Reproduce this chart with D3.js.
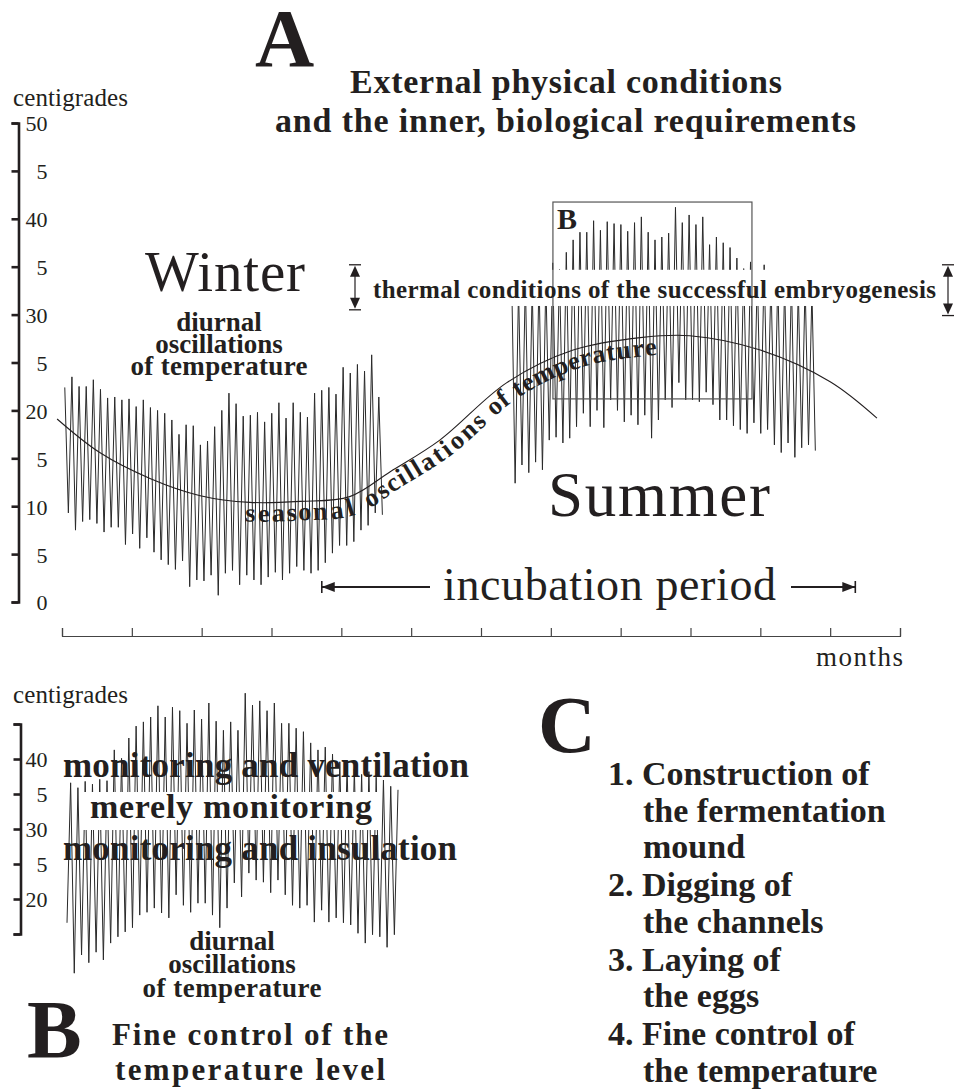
<!DOCTYPE html>
<html><head><meta charset="utf-8">
<script src="https://cdn.jsdelivr.net/npm/d3@7"></script>
<style>
body{margin:0;background:#fff}
svg{display:block}
text{font-family:"Liberation Serif","Times New Roman",serif;fill:#231f20}
</style>
</head><body>
<svg id="c" width="956" height="1092"></svg>
<script>
// ---------------- data ----------------
const monthTicks = [0,1,2,3,4,5,6,7,8,9,10,11,12];
const tempTicksA = [0,5,10,15,20,25,30,35,40,45,50];
const tempLabelsA = ["0","5","10","5","20","5","30","5","40","5","50"];
const tempTicksB = [15,20,25,30,35,40,45];
const tempLabelsB = ["","20","5","30","5","40",""];

// seasonal oscillation (month, °C)
const seasonMonths = [-0.07,0.54,1.26,1.98,2.69,3.41,4.12,4.70,5.41,6.37,7.32,8.28,8.99,10.0,11.0,11.67];
const seasonTemps  = [19.1,15.6,12.9,11.1,10.4,10.5,11.0,13.6,16.9,22.9,26.3,27.6,27.8,26.3,23.0,19.2];

// winter diurnal oscillations (daily max / min, °C)
const winterStart = 0.04, winterStep = 0.1022;
const winterPeaks = [22.4,23.5,22.5,22.5,23.2,22.2,21.3,21.4,21.1,21.2,20.4,21.1,20.3,20.0,19.7,19.0,17.5,18.5,18.4,16.4,16.8,18.3,20.0,21.8,20.7,19.4,19.5,19.8,18.8,19.7,20.8,19.2,20.8,19.8,19.3,21.8,22.1,22.4,21.7,24.5,23.9,24.8,24.1,25.8,21.4];
const winterTroughs = [9.3,7.5,8.4,8.6,8.2,7.3,7.8,7.8,6.0,7.1,5.6,6.7,5.2,4.4,3.9,3.4,4.3,1.6,2.3,2.2,2.8,0.7,3.0,3.3,1.8,2.8,2.3,1.8,2.6,3.1,2.3,3.0,3.7,3.3,3.0,3.3,4.1,5.1,5.9,5.9,6.3,7.5,8.0,9.3,9.1];

// summer diurnal oscillations
const summerStart = 6.44, summerStep = 0.0977;
const summerPeaks = [33.5,32.8,33.8,33.0,34.0,33.6,35.4,34.7,36.5,37.8,38.6,38.6,39.8,38.8,39.7,39.5,39.4,38.7,39.6,40.2,38.6,37.8,38.1,38.5,41.2,39.6,40.4,39.4,40.2,37.3,38.1,37.5,37.0,35.9,34.8,35.5,34.2,35.2,33.8,34.0,33.2,33.6,32.8,33.4,32.5];
const summerTroughs = [12.4,14.3,13.5,14.6,13.8,16.9,17.2,16.6,17.1,18.3,19.7,18.3,20.0,18.2,21.1,20.0,18.8,19.5,18.5,19.5,17.1,19.0,21.1,20.3,22.9,21.1,21.1,20.9,21.9,20.6,19.0,19.0,18.4,18.0,17.6,18.7,17.6,18.0,16.4,15.6,16.6,15.1,16.1,16.4,15.8];

// panel B: enlarged summer oscillations
const fineTroughs = [16.6,9.4,12.0,10.9,12.4,11.3,13.7,14.6,15.3,15.9,17.7,18.1,18.7,18.0,17.3,20.6,19.1,18.1,19.4,19.4,17.7,15.9,18.7,22.3,20.3,23.7,22.7,22.4,20.9,22.7,20.6,19.1,18.7,19.1,16.7,18.4,16.7,17.3,16.6,16.3,15.1,13.7,14.9,14.6,13.1,14.9];
const finePeaks = [36.6,35.9,36.8,36.4,37.1,36.9,41.3,40.1,43.0,44.7,45.3,46.0,47.6,46.0,47.4,46.9,45.1,47.0,45.7,48.0,45.4,44.1,45.3,44.1,49.4,47.7,48.3,46.9,48.0,45.1,45.1,44.4,43.9,42.3,41.3,41.7,40.7,39.6,39.0,38.6,37.8,38.2,37.4,37.0,36.1,35.6];

const boxMonths = [7.03, 9.88];
const boxTemps = [21.2, 41.75];
const embryoBand = [30.5, 35.2];
const embryoBandRight = [29.9, 35.2];
const incubation = [3.72, 11.36];

const cItems = [
  ["1. Construction of", "the fermentation", "mound"],
  ["2. Digging of", "the channels"],
  ["3. Laying of", "the eggs"],
  ["4. Fine control of", "the temperature"]
];

// ---------------- drawing ----------------
const svg = d3.select("#c");
const INK = "#231f20";

const xA = d3.scaleLinear().domain([0,12]).range([62,900]);
const yA = d3.scaleLinear().domain([0,50]).range([602,123]);

function txt(g, x, y, s, o) {
  const t = g.append("text").attr("x", x).attr("y", y).text(s)
    .attr("font-size", o.size).attr("font-weight", o.bold ? "bold" : "normal");
  if (o.anchor) t.attr("text-anchor", o.anchor);
  if (o.len) t.attr("textLength", o.len).attr("lengthAdjust", "spacing");
  return t;
}

const gA = svg.append("g");

// y axis A
const yAxisA = d3.axisLeft(yA).tickValues(tempTicksA)
  .tickFormat((d,i) => tempLabelsA[i]).tickSize(7).tickSizeOuter(7);
const ya = gA.append("g").attr("transform", "translate(18.5,0)").call(yAxisA);
ya.select(".domain").attr("stroke", INK).attr("stroke-width", 2.6);
ya.selectAll(".tick line").attr("stroke", INK).attr("stroke-width", 2.6);
ya.selectAll(".tick text").attr("x", 29).attr("dy", "0.36em")
  .attr("font-size", 22).attr("font-family", "Liberation Serif").attr("fill", INK);

// x axis A
const xAxisA = d3.axisTop(xA).tickValues(monthTicks).tickFormat("").tickSize(8).tickSizeOuter(8);
const xa = gA.append("g").attr("transform", "translate(0,636)").call(xAxisA);
xa.select(".domain").attr("stroke", "#444").attr("stroke-width", 1.2);
xa.selectAll(".tick line").attr("stroke", "#444").attr("stroke-width", 1.2);

// zigzag builder
function zig(peaks, troughs, start, step) {
  const pts = [];
  for (let i = 0; i < peaks.length; i++) {
    pts.push([start + i*step, peaks[i]]);
    pts.push([start + (i+0.5)*step, troughs[i]]);
  }
  return pts;
}
const lineA = d3.line().x(d => xA(d[0])).y(d => yA(d[1]));
gA.append("path").attr("d", lineA(zig(winterPeaks, winterTroughs, winterStart, winterStep)))
  .attr("fill","none").attr("stroke","#2a2a2a").attr("stroke-width",1);
gA.append("path").attr("d", lineA(zig(summerPeaks, summerTroughs, summerStart, summerStep)))
  .attr("fill","none").attr("stroke","#2a2a2a").attr("stroke-width",1);

// seasonal curve
const seasonData = seasonMonths.map((m,i) => [m, seasonTemps[i]]);
const seasonLine = d3.line().x(d => xA(d[0])).y(d => yA(d[1])).curve(d3.curveCatmullRom.alpha(0.5));
const sp = gA.append("path").attr("id","seasonPath").attr("d", seasonLine(seasonData))
  .attr("fill","none").attr("stroke",INK).attr("stroke-width",1.1);

// white band behind the embryogenesis label
const bandLayer = gA.append("g");

// B box
gA.append("rect")
  .attr("x", xA(boxMonths[0])).attr("y", yA(boxTemps[1]))
  .attr("width", xA(boxMonths[1]) - xA(boxMonths[0]))
  .attr("height", yA(boxTemps[0]) - yA(boxTemps[1]))
  .attr("fill","none").attr("stroke","#555").attr("stroke-width",1.2);
txt(gA, xA(boxMonths[0]) + 4, yA(boxTemps[1]) + 27, "B", {size: 30, bold: true});

// embryogenesis label & band
const emb = txt(gA, 373, 298, "thermal conditions of the successful embryogenesis", {size: 25, bold: true, len: 563});
const eb = emb.node().getBBox();
bandLayer.append("rect").attr("x", eb.x - 2).attr("y", yA(embryoBand[1]) + 5)
  .attr("width", eb.width + 4).attr("height", yA(30.9) - (yA(embryoBand[1]) + 5))
  .attr("fill", "#fff");

// double-headed vertical arrows
function vArrow(g, x, y1, y2) {
  g.append("line").attr("x1",x-6).attr("x2",x+6).attr("y1",y1).attr("y2",y1).attr("stroke",INK).attr("stroke-width",1.3);
  g.append("line").attr("x1",x-6).attr("x2",x+6).attr("y1",y2).attr("y2",y2).attr("stroke",INK).attr("stroke-width",1.3);
  g.append("line").attr("x1",x).attr("x2",x).attr("y1",y1+8).attr("y2",y2-8).attr("stroke",INK).attr("stroke-width",1.2);
  g.append("path").attr("d",`M${x},${y1+1}L${x-5},${y1+12}L${x+5},${y1+12}Z`).attr("fill",INK);
  g.append("path").attr("d",`M${x},${y2-1}L${x-5},${y2-12}L${x+5},${y2-12}Z`).attr("fill",INK);
}
vArrow(gA, 355, yA(embryoBand[1]), yA(embryoBand[0]));
vArrow(gA, 948, yA(embryoBandRight[1]), yA(embryoBandRight[0]));

// incubation period arrows
const iy = 587;
function hArrowEnd(g, x, dir) {
  g.append("line").attr("x1",x).attr("x2",x).attr("y1",iy-6).attr("y2",iy+6).attr("stroke",INK).attr("stroke-width",1.6);
  g.append("path").attr("d",`M${x},${iy}L${x+dir*13},${iy-5}L${x+dir*13},${iy+5}Z`).attr("fill",INK);
}
gA.append("line").attr("x1",xA(incubation[0])).attr("x2",430).attr("y1",iy).attr("y2",iy).attr("stroke",INK).attr("stroke-width",2);
hArrowEnd(gA, xA(incubation[0]), 1);
gA.append("line").attr("x1",791).attr("x2",xA(incubation[1])).attr("y1",iy).attr("y2",iy).attr("stroke",INK).attr("stroke-width",2);
hArrowEnd(gA, xA(incubation[1]), -1);

// seasonal text on curve
(function(){
  const node = sp.node(), L = node.getTotalLength();
  function lenAtX(x){ let lo=0, hi=L; for(let k=0;k<40;k++){ const m=(lo+hi)/2; if(node.getPointAtLength(m).x < x) lo=m; else hi=m; } return lo; }
  const l0 = lenAtX(246), l1 = lenAtX(655);
  const label = "seasonal oscillations of temperature";
  const st = gA.append("text").attr("font-size", 26).attr("font-weight","bold");
  const tp = st.append("textPath").attr("href","#seasonPath").attr("startOffset", l0);
  tp.append("tspan").attr("dy", 19).text(label);
  const nat = st.node().getComputedTextLength();
  const ls = (l1 - l0 - nat) / (label.length - 1);
  tp.attr("letter-spacing", ls);
})();

// texts in A
txt(gA, 255, 66, "A", {size: 82, bold: true});
txt(gA, 350, 93, "External physical conditions", {size: 34, bold: true, len: 432});
txt(gA, 275, 132, "and the inner, biological requirements", {size: 34, bold: true, len: 581});
txt(gA, 13, 106, "centigrades", {size: 25, len: 115});
txt(gA, 145, 291, "Winter", {size: 57, len: 160});
txt(gA, 219, 331, "diurnal", {size: 27, bold: true, anchor: "middle"});
txt(gA, 219, 353, "oscillations", {size: 27, bold: true, anchor: "middle"});
txt(gA, 219, 375, "of temperature", {size: 27, bold: true, anchor: "middle", len: 177});
txt(gA, 548, 516, "Summer", {size: 63, len: 222});
txt(gA, 443, 600, "incubation period", {size: 46, len: 333});
txt(gA, 816, 666, "months", {size: 27, len: 87});

// ---------------- panel B ----------------
const gB = svg.append("g");
const yB = d3.scaleLinear().domain([15,45]).range([934,724]);
const xB = d3.scaleLinear().domain([0, 45.5]).range([67, 398]);

const yAxisB = d3.axisLeft(yB).tickValues(tempTicksB)
  .tickFormat((d,i) => tempLabelsB[i]).tickSize(7).tickSizeOuter(7);
const yb = gB.append("g").attr("transform","translate(20.5,0)").call(yAxisB);
yb.select(".domain").attr("stroke", INK).attr("stroke-width", 2.6);
yb.selectAll(".tick line").attr("stroke", INK).attr("stroke-width", 2.6);
yb.selectAll(".tick text").attr("x", 27).attr("dy","0.36em")
  .attr("font-size", 22).attr("font-family","Liberation Serif").attr("fill", INK);

const finePts = [];
for (let i = 0; i < fineTroughs.length; i++) {
  finePts.push([i, fineTroughs[i]]);
  finePts.push([i + 0.5, finePeaks[i]]);
}
gB.append("path").attr("d", d3.line().x(d => xB(d[0])).y(d => yB(d[1]))(finePts))
  .attr("fill","none").attr("stroke","#2a2a2a").attr("stroke-width",1);

gB.append("rect").attr("x", 82).attr("y", 792).attr("width", 298).attr("height", 38).attr("fill","#fff");

txt(gB, 13, 703, "centigrades", {size: 25, len: 115});
txt(gB, 63, 777, "monitoring and ventilation", {size: 35, bold: true, len: 406});
txt(gB, 90, 818, "merely monitoring", {size: 34, bold: true, len: 282});
txt(gB, 63, 860, "monitoring and insulation", {size: 35, bold: true, len: 394});
txt(gB, 232, 950, "diurnal", {size: 27, bold: true, anchor: "middle"});
txt(gB, 232, 973, "oscillations", {size: 27, bold: true, anchor: "middle"});
txt(gB, 232, 997, "of temperature", {size: 27, bold: true, anchor: "middle", len: 179});
txt(gB, 27, 1057, "B", {size: 82, bold: true});
txt(gB, 112, 1045, "Fine control of the", {size: 31, bold: true, len: 276});
txt(gB, 115, 1080, "temperature level", {size: 31, bold: true, len: 270});

// ---------------- panel C ----------------
const gC = svg.append("g");
txt(gC, 538, 752, "C", {size: 80, bold: true});
let cy = 785;
cItems.forEach(item => {
  item.forEach((line, j) => {
    txt(gC, j === 0 ? 608 : 643, cy, line, {size: 34, bold: true});
    cy += 36.5;
  });
  cy += 1.5;
});
</script>
</body></html>
